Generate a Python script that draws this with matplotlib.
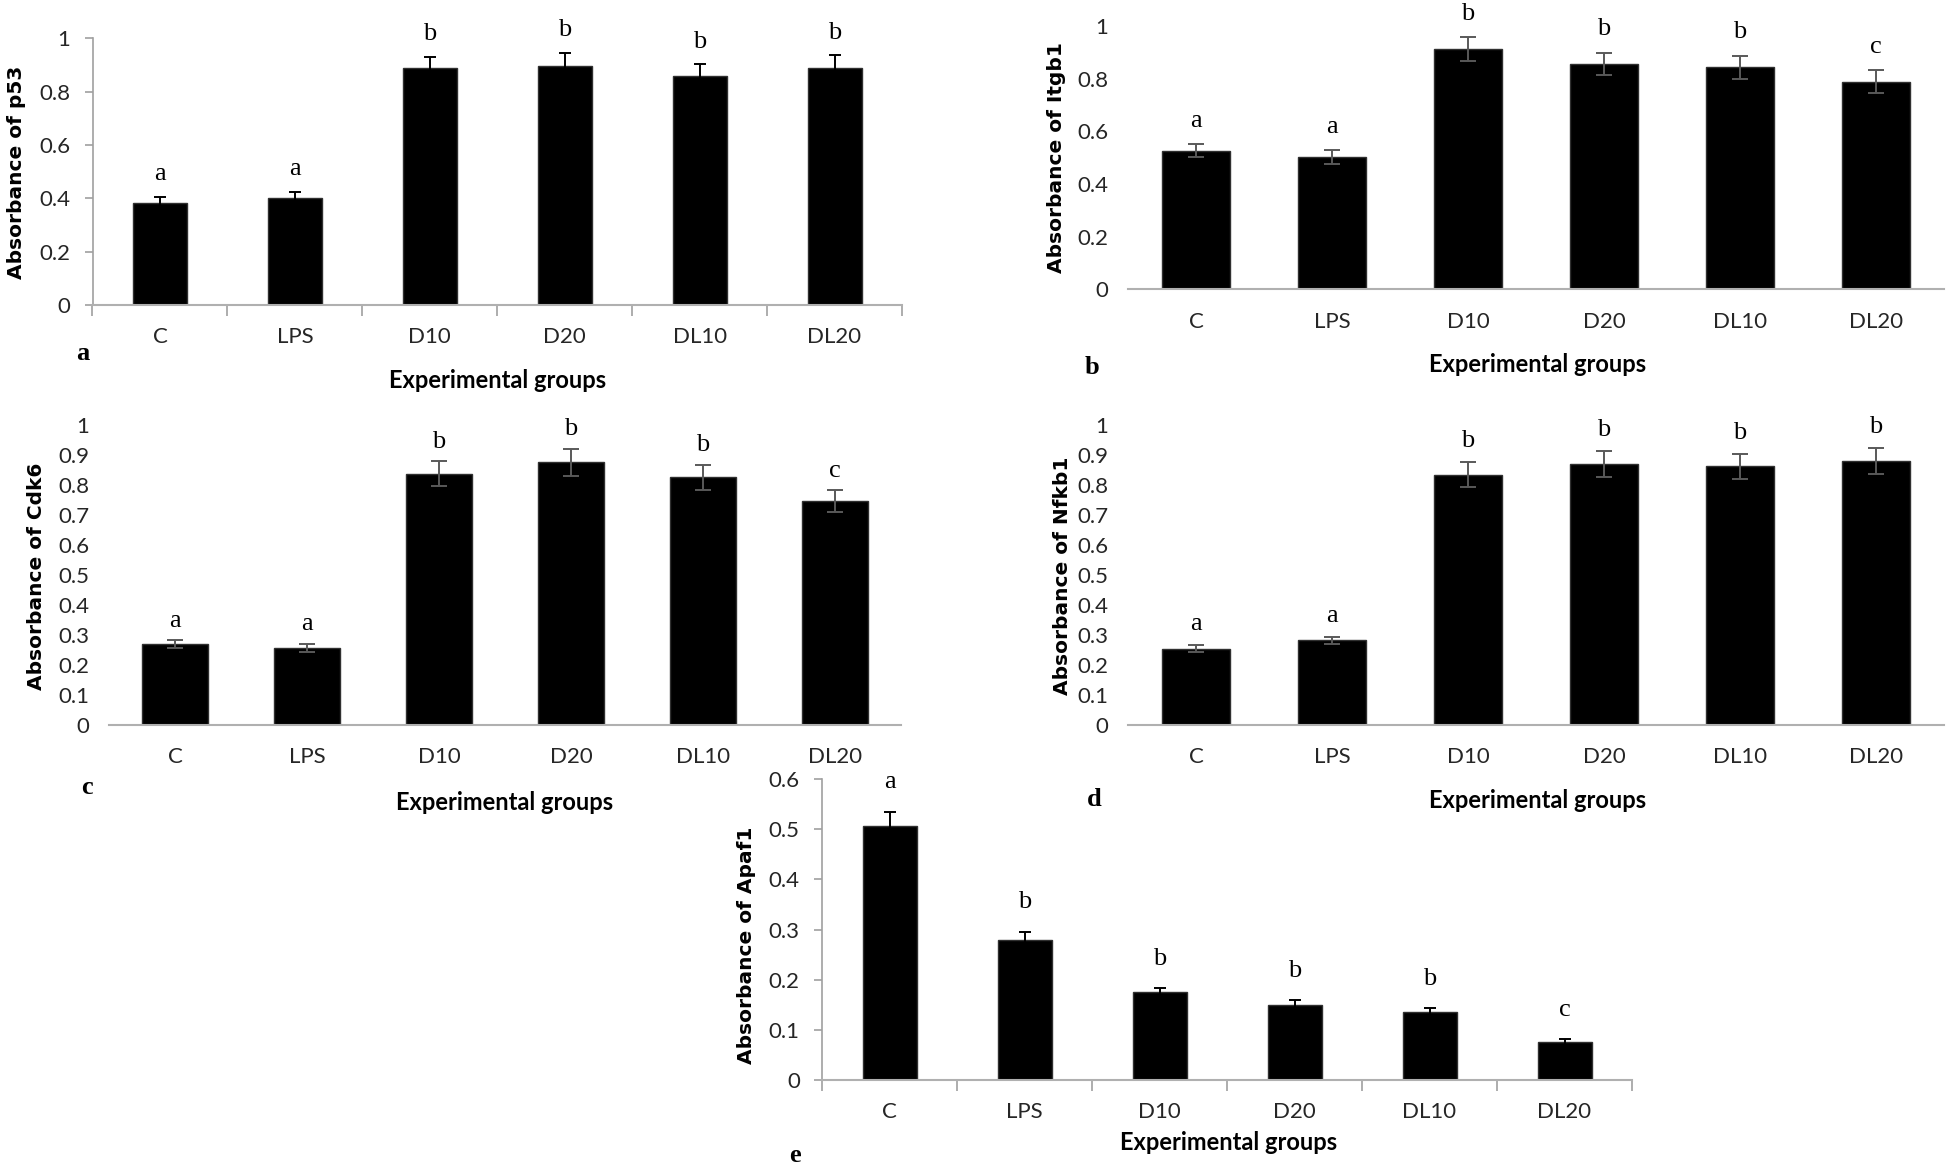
import numpy as np
from matplotlib import pyplot as plt

W, H = 1946, 1167

groups = ['C', 'LPS', 'D10', 'D20', 'DL10', 'DL20']

p53_mean = [0.384, 0.402, 0.887, 0.897, 0.859, 0.889]
p53_err = [0.022, 0.023, 0.044, 0.049, 0.043, 0.047]
p53_sig = ['a', 'a', 'b', 'b', 'b', 'b']

itgb1_mean = [0.526, 0.502, 0.912, 0.856, 0.843, 0.789]
itgb1_err = [0.025, 0.026, 0.045, 0.043, 0.043, 0.042]
itgb1_sig = ['a', 'a', 'b', 'b', 'b', 'c']

cdk6_mean = [0.270, 0.258, 0.838, 0.876, 0.826, 0.746]
cdk6_err = [0.013, 0.013, 0.042, 0.045, 0.042, 0.037]
cdk6_sig = ['a', 'a', 'b', 'b', 'b', 'c']

nfkb1_mean = [0.255, 0.282, 0.835, 0.870, 0.862, 0.881]
nfkb1_err = [0.013, 0.013, 0.043, 0.043, 0.043, 0.044]
nfkb1_sig = ['a', 'a', 'b', 'b', 'b', 'b']

apaf1_mean = [0.507, 0.280, 0.175, 0.150, 0.135, 0.076]
apaf1_err = [0.028, 0.016, 0.009, 0.009, 0.009, 0.006]
apaf1_sig = ['a', 'b', 'b', 'b', 'b', 'c']

TICK_FONT = ['Lato', 'DejaVu Sans']
YLAB_FONT = ['DejaVu Sans']
SERIF = ['Liberation Serif', 'DejaVu Serif']


def fx(x):
    return x / W


def fy(y):
    return 1 - y / H


def panel(fig, box, mean, err, sig, ymax, ystep, ylabel, ylab_xy, xlab_xy,
          letter, letter_xy, framed, width, sig_off):
    x0, x1, ytop, ybot = box
    ax = fig.add_axes([fx(x0), fy(ybot), (x1 - x0) / W, (ybot - ytop) / H])
    x = np.arange(len(groups))

    if framed:
        ecol, cap = 'black', 4
    else:
        ecol, cap = '#595959', 6
    ax.bar(x, mean, width=width, color='black', edgecolor='#303030',
           linewidth=1, zorder=2)
    ax.errorbar(x, mean, yerr=err, fmt='none', ecolor=ecol, elinewidth=1.4,
                capsize=cap, capthick=1.4, zorder=3)
    for i, s in enumerate(sig):
        ax.annotate(s, (x[i], mean[i] + err[i]), xytext=(0, sig_off),
                    textcoords='offset points', ha='center', va='center',
                    fontsize=19, family=SERIF)

    ax.set_xlim(-0.5, len(groups) - 0.5)
    ax.set_ylim(0, ymax)
    yt = np.round(np.arange(0, ymax + 1e-9, ystep), 2)
    ax.set_yticks(yt, [f'{v:g}' for v in yt])
    ax.set_xticks(x, groups)

    for side in ['top', 'right']:
        ax.spines[side].set_visible(False)
    ax.spines['bottom'].set_color('#b0b0b0')
    ax.spines['bottom'].set_linewidth(1.5)
    if framed:
        ax.spines['left'].set_color('#a0a0a0')
        ax.spines['left'].set_linewidth(1.2)
        ax.set_xticks(np.arange(len(groups) + 1) - 0.5, minor=True)
        ax.tick_params(axis='x', which='minor', length=8, color='#a0a0a0',
                       width=1.2)
        ax.tick_params(axis='y', length=6, color='#a0a0a0', width=1.2,
                       pad=10)
    else:
        ax.spines['left'].set_visible(False)
        ax.tick_params(axis='y', length=0, pad=14)
    ax.tick_params(axis='x', which='major', length=0, pad=16)
    for lab in ax.get_xticklabels() + ax.get_yticklabels():
        lab.set_family(TICK_FONT)
        lab.set_fontsize(16)
        lab.set_color('#262626')

    fig.text(fx(ylab_xy[0]), fy(ylab_xy[1]), ylabel, rotation=90,
             ha='center', va='center', fontsize=14.5, fontweight='bold',
             family=YLAB_FONT)
    fig.text(fx(xlab_xy[0]), fy(xlab_xy[1]), 'Experimental groups',
             ha='center', va='center', fontsize=17, fontweight='bold',
             family=TICK_FONT)
    fig.text(fx(letter_xy[0]), fy(letter_xy[1]), letter, ha='center',
             va='center', fontsize=19, fontweight='bold', family=SERIF)
    return ax


fig = plt.figure(figsize=(W / 100, H / 100), dpi=100)

panel(fig, (92.5, 902, 38.3, 305), p53_mean, p53_err, p53_sig, 1, 0.2,
      'Absorbance of p53', (17, 172), (498, 380), 'a', (83, 353),
      True, 0.4, 16)
panel(fig, (1128, 1944, 26, 289.3), itgb1_mean, itgb1_err, itgb1_sig, 1,
      0.2, 'Absorbance of Itgb1', (1057, 158), (1538, 365), 'b',
      (1092, 367), False, 0.5, 17)
panel(fig, (109, 901, 425, 725), cdk6_mean, cdk6_err, cdk6_sig, 1, 0.1,
      'Absorbance of Cdk6', (37, 576), (505, 802), 'c', (87, 788),
      False, 0.5, 14)
panel(fig, (1128, 1944, 425, 725), nfkb1_mean, nfkb1_err, nfkb1_sig, 1,
      0.1, 'Absorbance of Nfkb1', (1062, 576), (1538, 800), 'd',
      (1094, 800), False, 0.5, 15)
panel(fig, (822, 1632, 779, 1080), apaf1_mean, apaf1_err, apaf1_sig, 0.6,
      0.1, 'Absorbance of Apaf1', (747, 945), (1229, 1143), 'e',
      (795, 1155), True, 0.4, 21)

plt.savefig('out.png', dpi=100)
